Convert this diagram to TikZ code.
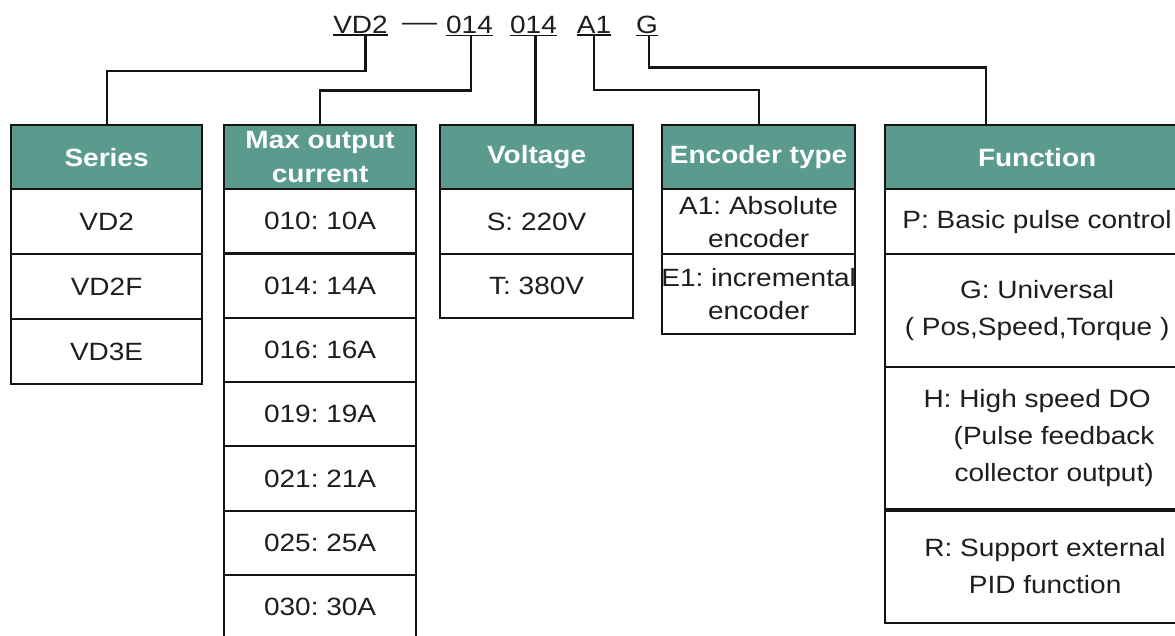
\documentclass[tikz,border=0pt]{standalone}
\usepackage{fontspec}
\setmainfont{Liberation Sans}[FakeStretch=1.12]
\frenchspacing
\definecolor{hc}{RGB}{90,155,142}
\definecolor{lc}{RGB}{20,20,20}
\definecolor{tc}{RGB}{30,30,30}
\begin{document}
\begin{tikzpicture}[x=1pt,y=-1pt,
  base/.style={draw=lc, line width=2.2pt, inner sep=0pt, anchor=north west, text=tc,
    font=\fontsize{25}{33}\selectfont, align=center},
  head/.style={base, fill=hc, text=white, font=\bfseries\fontsize{25}{34}\selectfont, minimum height=64pt},
  cell/.style={base, fill=white},
  code/.style={anchor=base, inner xsep=0pt, inner ysep=2pt, text=tc, font=\fontsize{25}{30}\selectfont},
  uline/.style={draw=lc, line width=1.7pt},
  conn/.style={draw=lc, line width=2.2pt}]
\useasboundingbox (0,0) rectangle (1175,635);
\clip (0,0) rectangle (1175,635);
\fill[white] (0,0) rectangle (1175,635);

% code line
\node[code] (cVD) at (360.5,33) {VD2};
\node[code] (dash) at (419.5,33) {\raisebox{3pt}{\scalebox{1.25}[1]{—}}};
\node[code] (cC1) at (469.5,33) {014};
\node[code] (cC2) at (533.5,33) {014};
\node[code] (cA1) at (594,33) {A1};
\node[code] (cG) at (647,33) {G};
\foreach \n in {cVD,cC1,cC2,cA1,cG}
  \draw[uline] (\n.south west) -- (\n.south east);

% Series
\node[head, minimum width=191pt] (ser) at (10,124) {Series};
\node[cell, minimum width=191pt, minimum height=65pt] (ser1) at (10,188) {VD2};
\node[cell, minimum width=191pt, minimum height=65pt] (ser2) at (10,253) {VD2F};
\node[cell, minimum width=191pt, minimum height=65pt] (ser3) at (10,318) {VD3E};

% Max output current
\node[head, minimum width=192pt] (cur) at (223,124) {Max output\\current};
\node[cell, minimum width=192pt, minimum height=64.3pt] (cur1) at (223,188) {010: 10A};
\node[cell, minimum width=192pt, minimum height=64.3pt] (cur2) at (223,252.3) {014: 14A};
\node[cell, minimum width=192pt, minimum height=64.3pt] (cur3) at (223,316.6) {016: 16A};
\node[cell, minimum width=192pt, minimum height=64.3pt] (cur4) at (223,380.9) {019: 19A};
\node[cell, minimum width=192pt, minimum height=64.3pt] (cur5) at (223,445.2) {021: 21A};
\node[cell, minimum width=192pt, minimum height=64.3pt] (cur6) at (223,509.5) {025: 25A};
\node[cell, minimum width=192pt, minimum height=64.3pt] (cur7) at (223,573.8) {030: 30A};

% Voltage
\node[head, minimum width=193pt] (vol) at (439,124) {Voltage};
\node[cell, minimum width=193pt, minimum height=65pt] (vol1) at (439,188) {S: 220V};
\node[cell, minimum width=193pt, minimum height=64pt] (vol2) at (439,253) {T: 380V};

% Encoder type
\node[head, minimum width=193pt] (enc) at (661,124) {Encoder type};
\node[cell, minimum width=193pt, minimum height=65pt] (enc1) at (661,188) {A1: Absolute\\encoder};
\node[cell, minimum width=193pt, minimum height=80pt] (enc2) at (661,253) {\makebox[0pt]{E1: incremental}\\encoder};

% Function
\node[head, minimum width=304pt] (fun) at (884,124) {Function};
\node[cell, minimum width=304pt, minimum height=65pt] (fun1) at (884,188) {P: Basic pulse control};
\node[cell, minimum width=304pt, minimum height=113pt, font=\fontsize{25}{37}\selectfont] (fun2) at (884,253) {G: Universal\\( Pos,Speed,Torque )};
\node[cell, minimum width=304pt, minimum height=142pt, font=\fontsize{25}{37}\selectfont] (fun3) at (884,366) {H: High speed DO\\\hspace*{34pt}(Pulse feedback\\\hspace*{34pt}collector output)};
\node[cell, minimum width=304pt, minimum height=114pt, font=\fontsize{25}{37}\selectfont] (fun4) at (884,508) {\hspace*{16pt}R: Support external\\\hspace*{16pt}PID function};
\draw[draw=lc, line width=4.5pt] (fun3.south west) -- (fun3.south east);

% connectors
\draw[conn] ([xshift=5pt]cVD.south) -- ++(0,36) -| (ser.north);
\draw[conn] ([xshift=1.5pt]cC1.south) -- ++(0,55) -| (cur.north);
\draw[conn] ([xshift=2pt]cC2.south) -- ([xshift=2pt]cC2.south |- vol.north);
\draw[conn] (cA1.south) -- ++(0,55) -| (enc.north);
\draw[conn] ([xshift=2pt]cG.south) -- ++(0,32) -| ([xshift=-51pt]fun.north);
\end{tikzpicture}
\end{document}
